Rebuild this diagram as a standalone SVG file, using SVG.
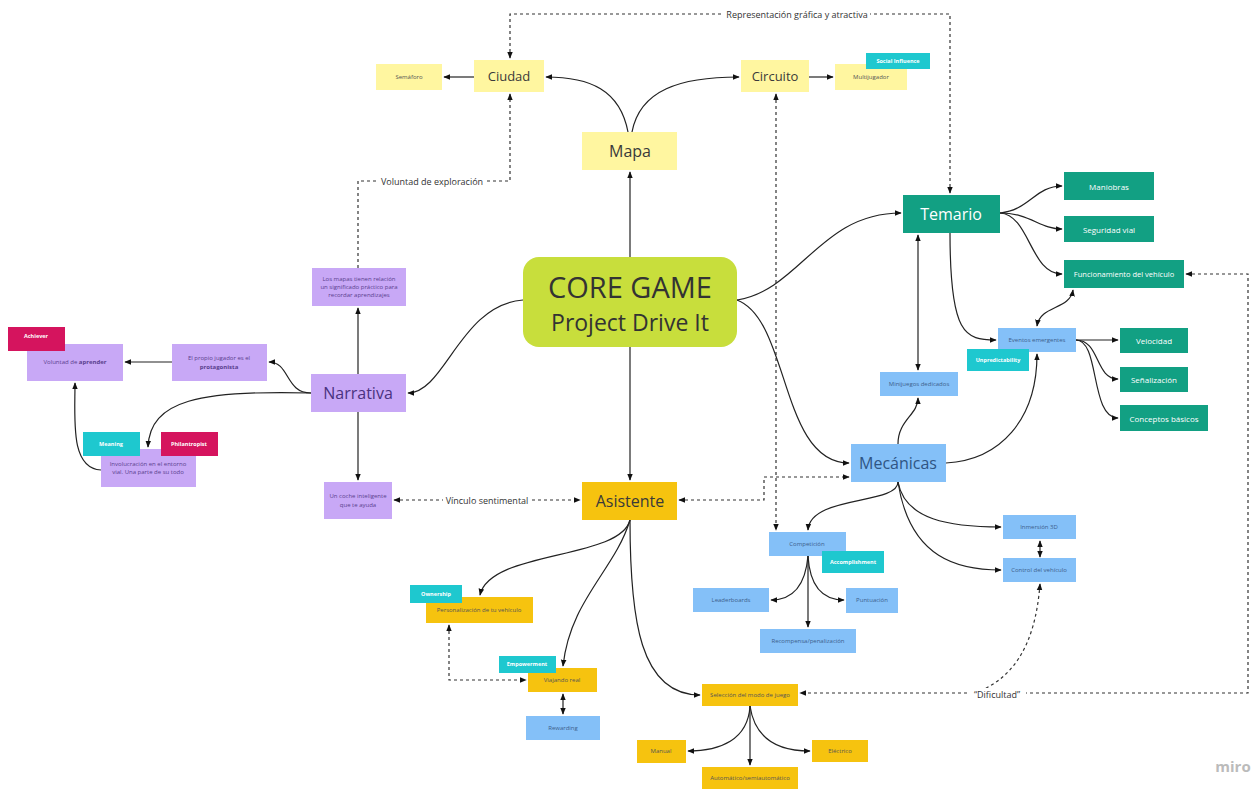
<svg xmlns="http://www.w3.org/2000/svg" width="1257" height="790" viewBox="0 0 1257 790">
<defs>
<marker id="a" viewBox="0 0 10 10" refX="9" refY="5" markerWidth="7" markerHeight="7" orient="auto-start-reverse" markerUnits="userSpaceOnUse"><path d="M0,1 L10,5 L0,9 z" fill="#111"/></marker>
<style>
text{font-family:"Open Sans","Noto Sans","Liberation Sans",sans-serif;text-anchor:middle;dominant-baseline:central}
.c{fill:none;stroke:#222;stroke-width:1.2}
.d{fill:none;stroke:#333;stroke-width:1.2;stroke-dasharray:3 3}
.e{marker-end:url(#a)}
.s{marker-start:url(#a)}
.yl{fill:#fff6a0}
.gd{fill:#f6c30f}
.tl{fill:#12a083}
.bl{fill:#84c0f8}
.pp{fill:#c8a8f6}
.cy{fill:#1ec8cf}
.cr{fill:#d5145e}
.big{font-size:16px;fill:#3a3a3a}
.sm{font-size:6px;fill:#555}
.smb{font-size:6px;fill:#3d5f8c}
.smp{font-size:6px;fill:#5a3f8e}
.wt{font-size:8px;fill:#fff}
.tg{font-size:5.5px;fill:#fff;font-weight:bold}
.lb{font-size:9px;fill:#333}
</style>
</defs>
<rect width="1257" height="790" fill="#fff"/>
<g id="connectors">
<path class="c e" d="M630,257 L630,172"/>
<path class="c e" d="M628,132 C620,90 590,77 546,77"/>
<path class="c e" d="M632,132 C640,90 680,77 739,77"/>
<path class="c e" d="M474,77 L444,77"/>
<path class="c e" d="M809,77 L833,77"/>
<path class="d e s" d="M510,58 L510,14 L950,14 L950,193"/>
<path class="d e" d="M358,268 L358,181 L510,181 L510,94"/>
<path class="c e" d="M358,374 L358,308"/>
<path class="c e" d="M523,300 C460,305 445,393 408,393"/>
<path class="c e" d="M311,393 C285,393 290,362 269,362"/>
<path class="c e" d="M172,362 L125,362"/>
<path class="c e" d="M311,393 C200,390 150,400 148,447"/>
<path class="c e" d="M101,470 C70,468 75,420 75,383"/>
<path class="c e" d="M358,412 L358,480"/>
<path class="d e s" d="M394,500 L580,500"/>
<path class="c e" d="M630,347 L630,480"/>
<path class="d e s" d="M679,500 L764,500 L764,477 L849,477"/>
<path class="d e s" d="M776,94 L776,530"/>
<path class="c e" d="M737,300 C800,290 820,213 901,213"/>
<path class="c e" d="M737,300 C790,320 780,463 849,463"/>
<path class="c e" d="M1000,213 C1030,210 1035,186 1062,186"/>
<path class="c e" d="M1000,213 C1030,213 1040,229 1062,229"/>
<path class="c e" d="M1000,213 C1030,215 1030,274 1062,274"/>
<path class="c e" d="M950,233 C950,335 965,340 996,340"/>
<path class="c e s" d="M1073,290 C1070,310 1040,305 1037,326"/>
<path class="c e" d="M946,463 C1000,460 1037,420 1037,354"/>
<path class="c e" d="M1076,340 L1118,340"/>
<path class="c e" d="M1076,340 C1100,340 1095,379 1118,379"/>
<path class="c e" d="M1076,340 C1100,340 1090,418 1118,418"/>
<path class="c e s" d="M918,235 L918,370"/>
<path class="c e" d="M898,444 C898,420 918,415 918,398"/>
<path class="c e" d="M898,482 C898,505 810,495 808,530"/>
<path class="c e" d="M898,482 C905,520 950,527 1001,527"/>
<path class="c e" d="M898,482 C910,560 960,570 1001,570"/>
<path class="c e s" d="M1040,557 L1040,541"/>
<path class="d e s" d="M1186,274 L1248,274 L1248,693 L800,693"/>
<path class="d s" d="M1040,584 C1035,650 1010,680 975,693"/>
<path class="c e" d="M808,556 C805,590 790,600 771,600"/>
<path class="c e" d="M808,556 C810,590 825,600 844,600"/>
<path class="c e" d="M808,556 L808,627"/>
<path class="c e" d="M630,520 C620,560 490,550 480,595"/>
<path class="c e" d="M630,520 C615,570 570,600 563,666"/>
<path class="c e" d="M630,520 C630,620 640,695 700,695"/>
<path class="d e s" d="M449,625 L449,680 L526,680"/>
<path class="c e s" d="M563,694 L563,714"/>
<path class="c e" d="M750,706 C748,740 720,751 688,751"/>
<path class="c e" d="M750,706 L750,765"/>
<path class="c e" d="M750,706 C755,740 780,751 810,751"/>
<rect x="724" y="8" width="146" height="12" fill="#fff"/>
<text class="lb" x="797" y="14">Representación gráfica y atractiva</text>
<rect x="378" y="175" width="108" height="12" fill="#fff"/>
<text class="lb" x="432" y="181">Voluntad de exploración</text>
<rect x="443" y="494" width="88" height="12" fill="#fff"/>
<text class="lb" x="487" y="500">Vínculo sentimental</text>
<rect x="968" y="688" width="58" height="12" fill="#fff"/>
<text class="lb" x="997" y="694">“Dificultad”</text>
</g>
<g id="core"><rect x="523" y="257" width="214" height="90" rx="16" fill="#c8de3c"/><text x="630" y="286" style="font-size:29px;fill:#333">CORE GAME</text><text x="630" y="322" style="font-size:23px;fill:#333">Project Drive It</text></g>
<g id="mapa"><rect class="yl" x="582" y="132" width="95" height="38"/><text class="big" x="630" y="151">Mapa</text></g>
<g id="ciudad"><rect class="yl" x="474" y="60" width="70" height="32"/><text class="big" x="509" y="76" style="font-size:13px">Ciudad</text></g>
<g id="semaforo"><rect class="yl" x="376" y="64" width="66" height="26"/><text class="sm" x="409" y="77">Semáforo</text></g>
<g id="circuito"><rect class="yl" x="741" y="60" width="68" height="32"/><text class="big" x="775" y="76" style="font-size:13px">Circuito</text></g>
<g id="multijugador"><rect class="yl" x="835" y="64" width="72" height="26"/><text class="sm" x="871" y="77">Multijugador</text><rect class="cy" x="866" y="53" width="64" height="16"/><text class="tg" x="898" y="61">Social Influence</text></g>
<g id="temario"><rect class="tl" x="903" y="195" width="97" height="38"/><text class="big" x="951" y="214" style="fill:#fff">Temario</text></g>
<g id="maniobras"><rect class="tl" x="1064" y="172" width="90" height="28"/><text class="wt" x="1109" y="186">Maniobras</text></g>
<g id="seguridad"><rect class="tl" x="1064" y="216" width="90" height="26"/><text class="wt" x="1109" y="229">Seguridad vial</text></g>
<g id="funcionamiento"><rect class="tl" x="1064" y="260" width="120" height="28"/><text class="wt" x="1124" y="274" style="font-size:7.5px">Funcionamiento del vehículo</text></g>
<g id="eventos"><rect class="bl" x="998" y="328" width="78" height="24"/><text class="smb" x="1037" y="340">Eventos emergentes</text><rect class="cy" x="967" y="349" width="62" height="22"/><text class="tg" x="998" y="360">Unpredictability</text></g>
<g id="velocidad"><rect class="tl" x="1120" y="328" width="68" height="25"/><text class="wt" x="1154" y="340">Velocidad</text></g>
<g id="senalizacion"><rect class="tl" x="1120" y="367" width="68" height="25"/><text class="wt" x="1154" y="379">Señalización</text></g>
<g id="conceptos"><rect class="tl" x="1120" y="405" width="88" height="26"/><text class="wt" x="1164" y="418">Conceptos básicos</text></g>
<g id="minijuegos"><rect class="bl" x="880" y="372" width="78" height="24"/><text class="smb" x="919" y="384">Minijuegos dedicados</text></g>
<g id="mecanicas"><rect class="bl" x="851" y="444" width="95" height="38"/><text class="big" x="898" y="463" style="fill:#2f5584">Mecánicas</text></g>
<g id="narrativa"><rect class="pp" x="311" y="374" width="95" height="38"/><text class="big" x="358" y="393" style="fill:#4a3280">Narrativa</text></g>
<g id="losmapas"><rect class="pp" x="312" y="268" width="94" height="38"/><text class="smp" x="359" y="279">Los mapas tienen relación</text><text class="smp" x="359" y="287">un significado práctico para</text><text class="smp" x="359" y="295">recordar aprendizajes</text></g>
<g id="voluntad"><rect class="pp" x="27" y="344" width="96" height="37"/><text class="smp" x="75" y="362">Voluntad de <tspan font-weight="bold">aprender</tspan></text><rect class="cr" x="8" y="327" width="57" height="24"/><text class="tg" x="36" y="336">Achiever</text></g>
<g id="protagonista"><rect class="pp" x="172" y="344" width="95" height="37"/><text class="smp" x="219" y="358">El propio jugador es el</text><text class="smp" x="219" y="367" font-weight="bold">protagonista</text></g>
<g id="involucracion"><rect class="pp" x="101" y="449" width="95" height="38"/><text class="smp" x="148" y="464">Involucración en el entorno</text><text class="smp" x="148" y="472">vial. Una parte de su todo</text><rect class="cy" x="83" y="432" width="57" height="24"/><text class="tg" x="111" y="444">Meaning</text><rect class="cr" x="161" y="432" width="57" height="24"/><text class="tg" x="189" y="444">Philantropist</text></g>
<g id="coche"><rect class="pp" x="324" y="482" width="68" height="37"/><text class="smp" x="358" y="496">Un coche inteligente</text><text class="smp" x="358" y="505">que te ayuda</text></g>
<g id="asistente"><rect class="gd" x="582" y="482" width="95" height="38"/><text class="big" x="630" y="501">Asistente</text></g>
<g id="competicion"><rect class="bl" x="769" y="532" width="77" height="24"/><text class="smb" x="807" y="544">Competición</text><rect class="cy" x="822" y="551" width="62" height="22"/><text class="tg" x="853" y="562">Accomplishment</text></g>
<g id="leaderboards"><rect class="bl" x="693" y="588" width="76" height="24"/><text class="smb" x="731" y="600">Leaderboards</text></g>
<g id="puntuacion"><rect class="bl" x="846" y="588" width="52" height="25"/><text class="smb" x="872" y="600">Puntuación</text></g>
<g id="recompensa"><rect class="bl" x="760" y="629" width="96" height="24"/><text class="smb" x="808" y="641">Recompensa/penalización</text></g>
<g id="inmersion"><rect class="bl" x="1003" y="515" width="73" height="24"/><text class="smb" x="1039" y="527">Inmersión 3D</text></g>
<g id="control"><rect class="bl" x="1003" y="558" width="73" height="24"/><text class="smb" x="1039" y="570">Control del vehículo</text></g>
<g id="personalizacion"><rect class="gd" x="426" y="597" width="107" height="26"/><text class="sm" x="479" y="610">Personalización de tu vehículo</text><rect class="cy" x="410" y="585" width="52" height="18"/><text class="tg" x="436" y="594">Ownership</text></g>
<g id="viajando"><rect class="gd" x="528" y="668" width="69" height="24"/><text class="sm" x="562" y="680">Viajando real</text><rect class="cy" x="499" y="656" width="57" height="17"/><text class="tg" x="527" y="664">Empowerment</text></g>
<g id="rewarding"><rect class="bl" x="526" y="716" width="74" height="24"/><text class="smb" x="563" y="728">Rewarding</text></g>
<g id="seleccion"><rect class="gd" x="702" y="684" width="96" height="22"/><text class="sm" x="750" y="695">Selección del modo de juego</text></g>
<g id="manual"><rect class="gd" x="637" y="740" width="49" height="23"/><text class="sm" x="661" y="751">Manual</text></g>
<g id="automatico"><rect class="gd" x="702" y="767" width="96" height="22"/><text class="sm" x="750" y="778">Automático/semiautomático</text></g>
<g id="electrico"><rect class="gd" x="812" y="740" width="56" height="22"/><text class="sm" x="840" y="751">Eléctrico</text></g>
<text x="1233" y="766" style="font-size:15px;fill:#bbb;font-weight:bold">miro</text>
</svg>
